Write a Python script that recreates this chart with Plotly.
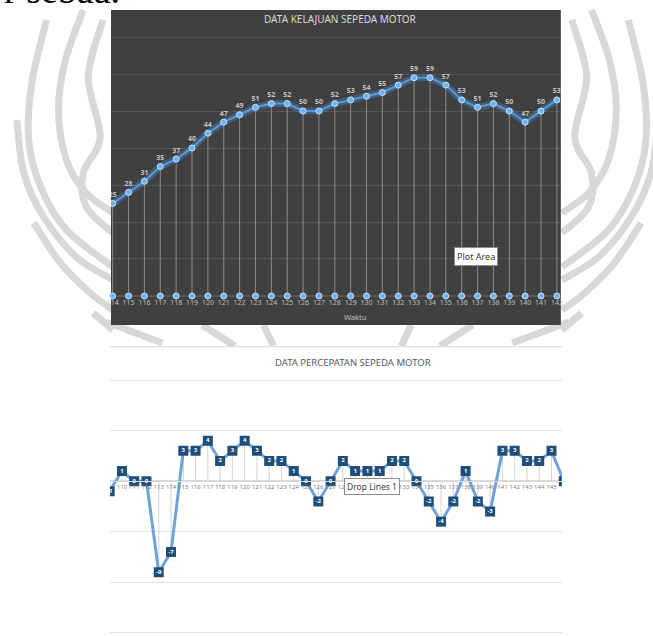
import plotly.graph_objects as go

W, H = 653, 636


def px(x):
    return x / W


def py(y):
    return 1 - y / H


# ---------------- data ----------------
waktu_kelajuan = [114, 115, 116, 117, 118, 119, 120, 121, 122, 123, 124, 125, 126, 127, 128,
                  129, 130, 131, 132, 133, 134, 135, 136, 137, 138, 139, 140, 141, 142]
kelajuan = [25, 28, 31, 35, 37, 40, 44, 47, 49, 51, 52, 52, 50, 50, 52,
            53, 54, 55, 57, 59, 59, 57, 53, 51, 52, 50, 47, 50, 53]
dasar_kelajuan = [0, 0, 0, 0, 0, 0, 0, 0, 0, 0, 0, 0, 0, 0, 0,
                  0, 0, 0, 0, 0, 0, 0, 0, 0, 0, 0, 0, 0, 0]

waktu_percepatan = [109, 110, 111, 112, 113, 114, 115, 116, 117, 118, 119, 120, 121, 122, 123,
                    124, 125, 126, 127, 128, 129, 130, 131, 132, 133, 134, 135, 136, 137, 138,
                    139, 140, 141, 142, 143, 144, 145, 146]
percepatan = [-1, 1, 0, 0, -9, -7, 3, 3, 4, 2, 3, 4, 3, 2, 2,
              1, 0, -2, 0, 2, 1, 1, 1, 2, 2, 0, -2, -4, -2, 1,
              -2, -3, 3, 3, 2, 2, 3, 0]

fig = go.Figure()

# ---------------- top chart: kelajuan ----------------
dx, dy = [], []
for x, v, b in zip(waktu_kelajuan, kelajuan, dasar_kelajuan):
    dx += [x, x, None]
    dy += [b, v, None]
fig.add_trace(go.Scatter(x=dx, y=dy, mode="lines", line=dict(color="#8a8a8a", width=1),
                         hoverinfo="skip", showlegend=False, xaxis="x", yaxis="y"))
fig.add_trace(go.Scatter(x=waktu_kelajuan, y=kelajuan, mode="lines",
                         line=dict(color="rgba(70,150,230,0.35)", width=7),
                         hoverinfo="skip", showlegend=False, xaxis="x", yaxis="y"))
fig.add_trace(go.Scatter(x=waktu_kelajuan, y=kelajuan, mode="lines+markers+text",
                         line=dict(color="#5b9bd5", width=2),
                         marker=dict(size=6, color="#6ab4f5", line=dict(color="#c4e2ff", width=1)),
                         text=[str(v) for v in kelajuan], textposition="top center",
                         texttemplate="<b>%{text}</b>",
                         textfont=dict(size=7, color="#c4c4c4", family="Noto Sans"),
                         cliponaxis=True, showlegend=False, xaxis="x", yaxis="y"))
fig.add_trace(go.Scatter(x=waktu_kelajuan, y=dasar_kelajuan, mode="markers",
                         marker=dict(size=6, color="#6ab4f5", line=dict(color="#c4e2ff", width=1)),
                         cliponaxis=False, showlegend=False, xaxis="x", yaxis="y"))

# ---------------- bottom chart: percepatan ----------------
ex, ey = [], []
for x, v in zip(waktu_percepatan, percepatan):
    ex += [x, x, None]
    ey += [0, v, None]
fig.add_trace(go.Scatter(x=ex, y=ey, mode="lines", line=dict(color="#d4d4d4", width=1),
                         hoverinfo="skip", showlegend=False, xaxis="x2", yaxis="y2"))
fig.add_trace(go.Scatter(x=waktu_percepatan, y=percepatan, mode="lines+markers+text",
                         line=dict(color="#6fa3d8", width=3),
                         marker=dict(symbol="square", size=10, color="#1f4e79",
                                     line=dict(color="#1f4e79", width=0)),
                         text=[str(v) for v in percepatan], textposition="middle center",
                         texttemplate="<b>%{text}</b>",
                         textfont=dict(size=6, color="#ffffff", family="Noto Sans"),
                         cliponaxis=True, showlegend=False, xaxis="x2", yaxis="y2"))

# ---------------- watermark (decoration) ----------------
def smooth_path(pts):
    d = "M {:.4f},{:.4f}".format(px(pts[0][0]), py(pts[0][1]))
    n = len(pts)
    for i in range(n - 1):
        p0 = pts[i - 1] if i > 0 else pts[i]
        p1 = pts[i]
        p2 = pts[i + 1]
        p3 = pts[i + 2] if i + 2 < n else pts[i + 1]
        c1 = (p1[0] + (p2[0] - p0[0]) / 6, p1[1] + (p2[1] - p0[1]) / 6)
        c2 = (p2[0] - (p3[0] - p1[0]) / 6, p2[1] - (p3[1] - p1[1]) / 6)
        d += " C {:.4f},{:.4f} {:.4f},{:.4f} {:.4f},{:.4f}".format(
            px(c1[0]), py(c1[1]), px(c2[0]), py(c2[1]), px(p2[0]), py(p2[1]))
    return d


left_curves = [
    [(43, 20), (28, 83), (25, 140), (37, 187), (63, 230), (110, 267)],
    [(80, 10), (62, 60), (55, 110), (63, 160), (83, 193), (110, 213)],
    [(13, 120), (20, 173), (40, 217), (73, 257), (110, 280)],
    [(30, 223), (57, 263), (87, 293), (110, 310)],
    [(90, 313), (110, 330)],
    [(100, 20), (85, 77), (97, 137), (80, 173), (83, 207), (110, 233)],
    [(200, 325), (233, 346)],
    [(262, 325), (272, 346)],
    [(103, 322), (160, 343)],
]
shapes = []
for c in left_curves:
    for pts in (c, [(673 - x, y) for x, y in c]):
        shapes.append(dict(type="path", path=smooth_path(pts), xref="paper", yref="paper",
                           line=dict(color="#d8d8d8", width=7), layer="below"))

shapes.append(dict(type="rect", xref="paper", yref="paper", x0=px(108), x1=px(562),
                   y0=py(325), y1=py(10), fillcolor="#404040", line=dict(width=0), layer="below"))
shapes.append(dict(type="rect", xref="paper", yref="paper", x0=px(100), x1=px(570),
                   y0=py(636), y1=py(346), fillcolor="#ffffff", line=dict(width=0), layer="below"))
shapes.append(dict(type="line", xref="paper", yref="paper", x0=px(107), x1=px(563),
                   y0=py(346.7), y1=py(346.7), line=dict(color="#d9d9d9", width=1), layer="below"))

annotations = [
    dict(text="r sebaa.", x=px(-2), y=py(13), xanchor="left", yanchor="bottom",
         font=dict(family="Liberation Serif", size=38, color="#000000")),
    dict(text="DATA KELAJUAN SEPEDA MOTOR", x=px(340), y=py(19),
         font=dict(family="Noto Sans", size=10, color="#d9d9d9")),
    dict(text="Waktu", x=px(354), y=py(317),
         font=dict(family="Noto Sans", size=7.5, color="#c0c0c0")),
    dict(text="DATA PERCEPATAN SEPEDA MOTOR", x=px(352.5), y=py(362),
         font=dict(family="Noto Sans", size=9.5, color="#595959")),
    dict(text="Plot Area", x=px(476), y=py(256), bgcolor="#ffffff",
         bordercolor="#8c8c8c", borderwidth=1, borderpad=2,
         font=dict(family="Noto Sans", size=9, color="#3c3c3c")),
    dict(text="Drop Lines 1", x=px(371.5), y=py(486), bgcolor="#ffffff",
         bordercolor="#8c8c8c", borderwidth=1, borderpad=2,
         font=dict(family="Noto Sans", size=8.5, color="#3c3c3c")),
]
for a in annotations:
    a.setdefault("xanchor", "center")
    a.setdefault("yanchor", "middle")
    a.update(xref="paper", yref="paper", showarrow=False)

fig.update_layout(
    width=W, height=H, margin=dict(l=0, r=0, t=0, b=0),
    paper_bgcolor="#ffffff", plot_bgcolor="rgba(0,0,0,0)",
    showlegend=False, shapes=shapes, annotations=annotations,
    xaxis=dict(domain=[px(108), px(562)], range=[113.894, 142.249], anchor="y",
               tickmode="array", tickvals=waktu_kelajuan,
               ticktext=[str(v) for v in waktu_kelajuan], tickangle=0,
               tickfont=dict(family="Noto Sans", size=7, color="#bfbfbf"),
               showgrid=False, zeroline=False, showline=False, ticks=""),
    yaxis=dict(domain=[py(297.1), py(35.9)], range=[-0.3, 70.3], dtick=10, tick0=0, anchor="x",
               gridcolor="#555555", gridwidth=1, zeroline=True, zerolinecolor="#555555",
               showticklabels=False, ticks=""),
    xaxis2=dict(domain=[px(107), px(563)], range=[109.03, 145.84], anchor="free",
                position=py(481), tickmode="array", tickvals=waktu_percepatan,
                ticktext=[str(v) for v in waktu_percepatan], tickangle=0,
                tickfont=dict(family="Noto Sans", size=6, color="#7f7f7f"),
                showgrid=False, zeroline=False, showline=True, linecolor="#d9d9d9", ticks=""),
    yaxis2=dict(domain=[py(634), py(379)], range=[-15.1, 10.1], dtick=5, tick0=0, anchor="x2",
                gridcolor="#e3e3e3", gridwidth=1, zeroline=True, zerolinecolor="#d9d9d9",
                showticklabels=False, ticks=""),
)

fig.write_html("out.html")
